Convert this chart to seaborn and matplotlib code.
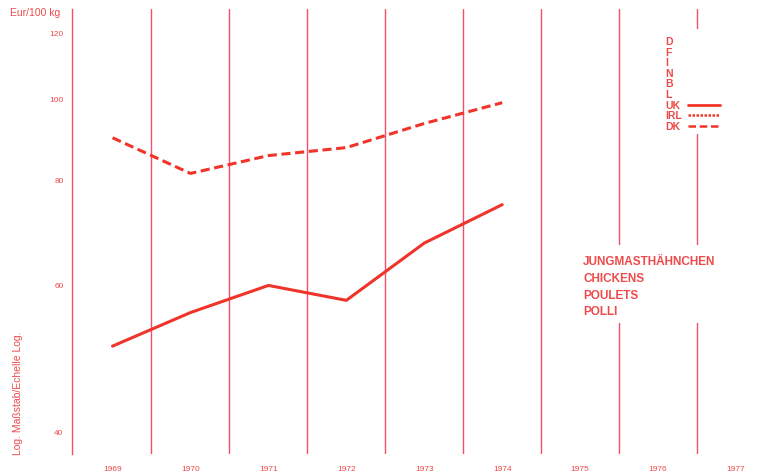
import numpy as np
import pandas as pd
import matplotlib
matplotlib.use("Agg")
import matplotlib.pyplot as plt
import seaborn as sns
from matplotlib.patches import Rectangle

# Data (Eur/100 kg, log scale)
years = [1969, 1970, 1971, 1972, 1973, 1974]
uk_values = [50.6, 55.5, 59.8, 57.4, 67.2, 74.7]
dk_values = [89.8, 81.4, 85.5, 87.4, 93.4, 98.9]
axis_years = [1969, 1970, 1971, 1972, 1973, 1974, 1975, 1976, 1977]
y_ticks = [40, 60, 80, 100, 120]
legend_codes = ["D", "F", "I", "N", "B", "L", "UK", "IRL", "DK"]
title_lines = ["JUNGMASTHÄHNCHEN", "CHICKENS", "POULETS", "POLLI"]

line_red = "#f0342a"
grid_red = "#f2506a"
text_red = "#ee4a4a"

sns.set_style("white")
plt.rcParams['font.family'] = ['Liberation Sans', 'DejaVu Sans']

df = pd.DataFrame({
    "year": years * 2,
    "value": uk_values + dk_values,
    "country": ["UK"] * len(years) + ["DK"] * len(years),
})

fig = plt.figure(figsize=(7.75, 4.77), dpi=100)
ax = fig.add_axes([72 / 775, 22 / 477, 703 / 775, 445 / 477])

# vertical separators between years
for yr in axis_years[:-1]:
    ax.axvline(yr + 0.5, color=grid_red, lw=1.0, zorder=1)

sns.lineplot(data=df, x="year", y="value", style="country",
             dashes={"UK": "", "DK": (3, 1.5)}, color=line_red,
             linewidth=2.2, ax=ax, legend=False, zorder=3)

ax.set_yscale("log")
ax.set_ylim(37.6, 128)
ax.set_xlim(axis_years[0] - 0.52, axis_years[-1] + 0.5)
ax.set_yticks(y_ticks)
ax.set_yticklabels([str(t) for t in y_ticks])
ax.yaxis.set_minor_locator(matplotlib.ticker.NullLocator())
ax.set_xticks(axis_years)
ax.set_xticklabels([str(y) for y in axis_years])
ax.tick_params(axis="both", length=0, labelsize=6, colors=text_red)
ax.tick_params(axis="y", pad=6)
ax.tick_params(axis="x", pad=8)
ax.set_xlabel("")
ax.set_ylabel("")
for s in ["top", "right", "bottom"]:
    ax.spines[s].set_visible(False)
ax.spines["left"].set_color(grid_red)
ax.spines["left"].set_linewidth(1.0)

# white patches that interrupt the grid lines behind the texts
ax.add_patch(Rectangle((0.838, 0.72), 0.1, 0.235, transform=ax.transAxes,
                       facecolor="white", edgecolor="none", zorder=2))
ax.add_patch(Rectangle((0.72, 0.295), 0.27, 0.175, transform=ax.transAxes,
                       facecolor="white", edgecolor="none", zorder=2))

# legend column
for i, code in enumerate(legend_codes):
    fig.text(665 / 775, 1 - (42 + i * 10.6) / 477, code, fontsize=7.5,
             fontweight="bold", color=text_red, va="center", ha="left")
for code, ls in [("UK", "-"), ("IRL", (0, (1, 0.6))), ("DK", (0, (3, 1.5)))]:
    i = legend_codes.index(code)
    yy = 1 - (42 + i * 10.6) / 477
    fig.add_artist(plt.Line2D([688 / 775, 720 / 775], [yy, yy], color=line_red,
                              lw=2 if ls == "-" else 1.8, linestyle=ls))

# product label
for i, t in enumerate(title_lines):
    fig.text(583 / 775, 1 - (262 + i * 16.8) / 477, t, fontsize=8.5,
             fontweight="bold", color=text_red, va="center", ha="left")

fig.text(10 / 775, 1 - 13 / 477, "Eur/100 kg", fontsize=7.5, color=text_red,
         va="center", ha="left")
fig.text(18 / 775, 1 - 455 / 477, "Log. Maßstab/Echelle Log.", fontsize=7.5,
         color=text_red, rotation=90, va="bottom", ha="center")

fig.savefig("out.png", dpi=100, facecolor="white")
